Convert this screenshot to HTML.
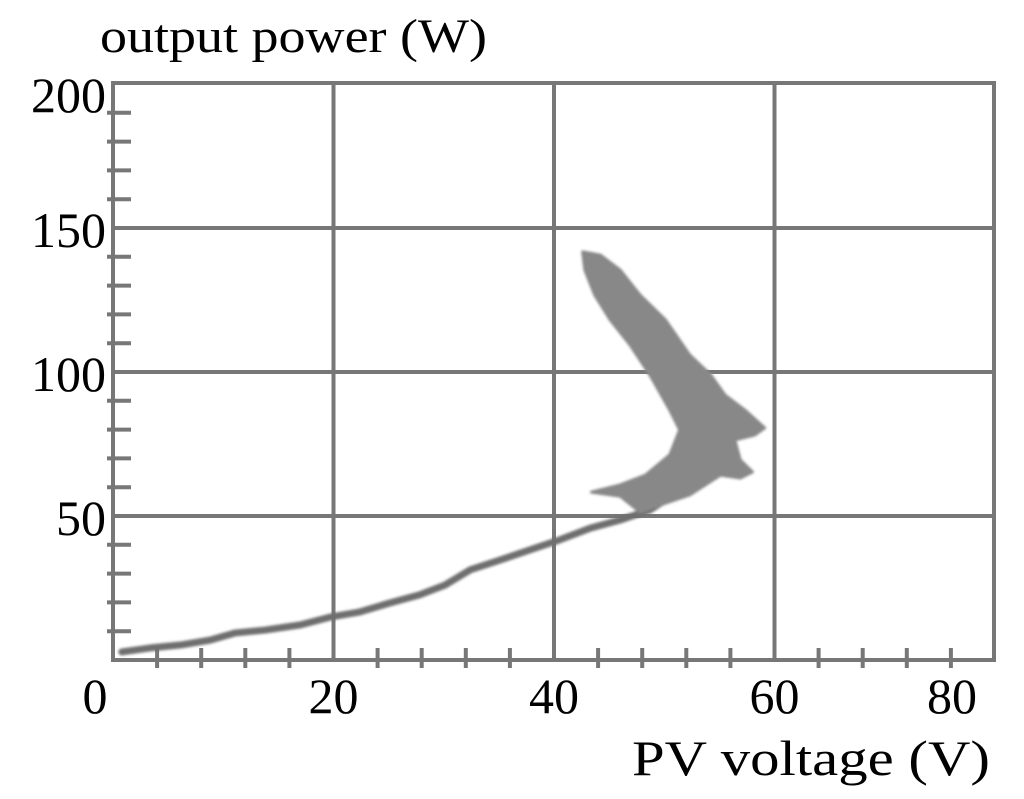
<!DOCTYPE html>
<html><head><meta charset="utf-8"><style>
html,body{margin:0;padding:0;background:#fff}
svg text{font-family:"Liberation Serif",serif;fill:#000}
</style></head><body>
<svg id="chart" width="1024" height="794" viewBox="0 0 1024 794">
<defs><filter id="bl"><feGaussianBlur stdDeviation="1.2"/></filter></defs>
<g id="grid"></g>
<g id="ticks"></g>
<g id="data" filter="url(#bl)"></g>
<rect x="113" y="83" width="881" height="577" fill="none" stroke="#777" stroke-width="4"/>
<g id="labels"></g>
<text x="100" y="52" font-size="48" textLength="387" lengthAdjust="spacingAndGlyphs">output power (W)</text>
<text x="632" y="775" font-size="50" textLength="358" lengthAdjust="spacingAndGlyphs">PV voltage (V)</text>
</svg>
<script>
const xTicks=[0,20,40,60,80];
const yTicks=[0,50,100,150,200];
const curveV=[0.8,3.4,6.1,8.8,11.1,13.8,17.0,19.7,22.4,25.1,27.8,30.1,32.4,35.1,37.8,40.5,43.3,46.0,48.7,50.1];
const curveP=[2.8,4.2,5.2,6.9,9.4,10.4,12.2,14.9,16.7,19.8,22.6,26.0,31.3,34.7,38.2,41.7,45.8,48.6,52.1,55.6];
const blobV=[42.6,44.2,46.0,47.8,50.1,52.3,54.2,55.5,57.3,59.1,58.2,56.4,56.9,58.0,56.9,55.1,52.3,49.6,47.8,46.0,43.4,46.0,48.3,50.5,51.4,50.5,48.7,46.9,45.1,43.7,42.8];
const blobP=[141.7,140.6,135.4,126.7,118.1,105.9,99.0,92.0,86.8,80.6,78.1,76.4,69.4,65.3,63.2,64.2,57.3,53.8,51.4,56.9,58.3,60.8,64.2,71.2,79.9,86.8,99.0,109.4,118.1,126.7,135.4];
const X0=113,X1=995,Y0=660,Y1=84;
const sx=v=>X0+(v-0)/(80-0)*(X1-X0);
const sy=p=>Y0-(p-0)/(200-0)*(Y0-Y1);
const NS="http://www.w3.org/2000/svg";
function mk(t,a,parent){const e=document.createElementNS(NS,t);for(const k in a)e.setAttribute(k,a[k]);parent.appendChild(e);return e;}
const grid=document.getElementById('grid'),ticks=document.getElementById('ticks'),labels=document.getElementById('labels'),data=document.getElementById('data');
xTicks.forEach(v=>{
  if(v>0&&v<80){const l=mk('line',{x1:sx(v),x2:sx(v),y1:Y1,y2:Y0,stroke:'#777','stroke-width':4},grid);
  
  }
  const dx=v===0?-18:(v===80?-43:0);
  const t=mk('text',{x:sx(v)+dx,y:713,'font-size':50,'text-anchor':'middle'},labels);t.textContent=v;
  
  
});
yTicks.forEach(p=>{
  if(p>0&&p<200){const l=mk('line',{x1:X0,x2:X1,y1:sy(p),y2:sy(p),stroke:'#777','stroke-width':4},grid);
  
  }
  if(p>0){const t=mk('text',{x:106,y:(p===200?sy(p)+28:sy(p)+19),'font-size':50,'text-anchor':'end'},labels);t.textContent=p;
  
  }
});
for(let p=10;p<200;p+=10){if(p%50===0)continue;
  const l=mk('line',{x1:107,x2:131,y1:sy(p),y2:sy(p),stroke:'#777','stroke-width':4},ticks);
  
  }
for(let v=4;v<80;v+=4){if(v%20===0)continue;
  const l=mk('line',{x1:sx(v),x2:sx(v),y1:648,y2:668,stroke:'#777','stroke-width':4},ticks);
  
  }
const c=mk('polyline',{points:curveV.map((v,i)=>sx(v)+','+sy(curveP[i])).join(' '),fill:'none',stroke:'#6e6e6e','stroke-width':7,'stroke-linejoin':'round','stroke-linecap':'round'},data);


const b=mk('polygon',{points:blobV.map((v,i)=>sx(v)+','+sy(blobP[i])).join(' '),fill:'#888',stroke:'#888','stroke-width':3,'stroke-linejoin':'round'},data);


</script>
</body></html>
